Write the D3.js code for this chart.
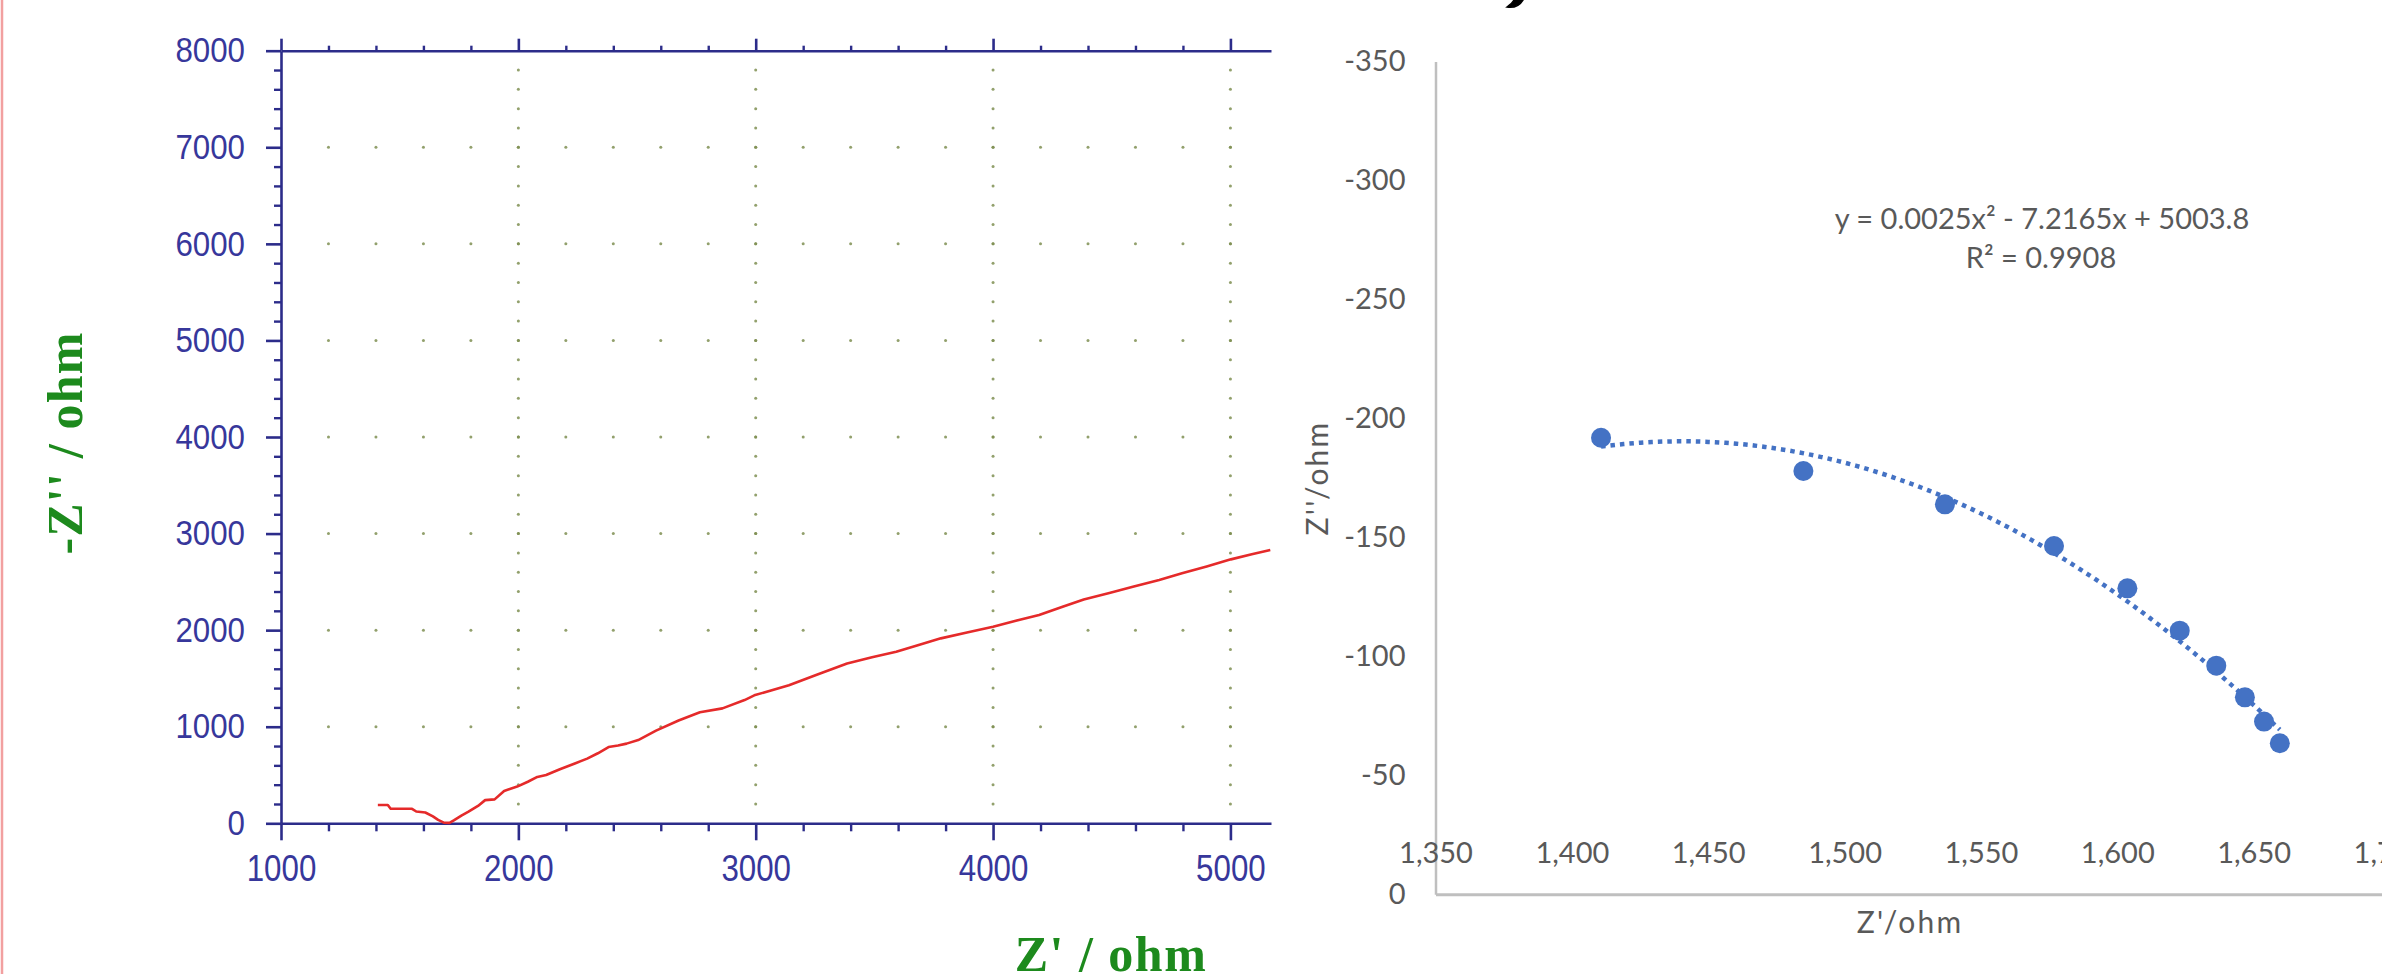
<!DOCTYPE html>
<html>
<head>
<meta charset="utf-8">
<script src="https://cdn.jsdelivr.net/npm/d3@7"></script>
<style>
  html, body { margin: 0; padding: 0; background: #ffffff; }
  svg { display: block; }
</style>
</head>
<body>
<script>
// ---------------- DATA ----------------
// Left chart: Nyquist trace (Z' in ohm, -Z'' in ohm)
const nyquistZre = [1408, 1450, 1462, 1552, 1570, 1608, 1640, 1662, 1688, 1710, 1728, 1760, 1790, 1830, 1860, 1900, 1940, 1995, 2040, 2080, 2117, 2175, 2238, 2290, 2335, 2380, 2420, 2456, 2505, 2580, 2675, 2765, 2860, 2953, 2994, 3140, 3260, 3385, 3490, 3592, 3690, 3780, 3890, 4000, 4100, 4194, 4290, 4382, 4490, 4589, 4700, 4796, 4900, 5002, 5090, 5168];
const nyquistZim = [190, 190, 150, 150, 122, 112, 72, 35, 5, 4, 30, 80, 120, 180, 240, 248, 335, 380, 430, 480, 500, 560, 620, 670, 725, 790, 805, 825, 862, 960, 1065, 1150, 1190, 1276, 1325, 1430, 1540, 1655, 1720, 1776, 1850, 1915, 1975, 2035, 2100, 2156, 2240, 2318, 2385, 2449, 2520, 2588, 2660, 2733, 2785, 2829];
const leftXTicks = [1000, 2000, 3000, 4000, 5000];
const leftYTicks = [0, 1000, 2000, 3000, 4000, 5000, 6000, 7000, 8000];
const leftMinorStep = 200;
const leftXTitle = "Z' / ohm";
const leftYTitle = "-Z'' / ohm";

// Right chart: scatter (Z' / ohm, Z'' / ohm)
const scatterZre = [1410.7, 1484.9, 1536.8, 1576.8, 1603.7, 1622.9, 1636.3, 1646.8, 1653.8, 1659.6];
const scatterZim = [-191.9, -177.9, -163.9, -146.4, -128.6, -110.8, -96.1, -82.8, -72.6, -63.5];
const rightXTicks = [1350, 1400, 1450, 1500, 1550, 1600, 1650, 1700];
const rightYTicks = [0, -50, -100, -150, -200, -250, -300, -350];
const rightXTitle = "Z'/ohm";
const rightYTitle = "Z''/ohm";
const equationText = "y = 0.0025x\u00B2 - 7.2165x + 5003.8";
const r2Text = "R\u00B2 = 0.9908";

// ---------------- LAYOUT ----------------
const W = 2382, H = 974;
const navy = "#2c2c8a", navyText = "#37379b", green = "#1d8a1d", gridCol = "#7f8f52";
const excelGray = "#595959", excelAxis = "#bfbfbf", excelBlue = "#4472C4";

const svg = d3.select("body").append("svg").attr("width", W).attr("height", H);
svg.append("rect").attr("width", W).attr("height", H).attr("fill", "#fff");

// pinkish frame line at the far left
svg.append("line").attr("x1", 2).attr("x2", 2).attr("y1", 0).attr("y2", H)
  .attr("stroke", "#f2a0a0").attr("stroke-width", 2.5);

// ---------------- LEFT CHART ----------------
const xL = d3.scaleLinear().domain([1000, 5171]).range([281, 1271]);
const yL = d3.scaleLinear().domain([0, 8000]).range([823.3, 50.7]);

const xMinor = d3.range(1000, 5171, leftMinorStep).filter(v => v % 1000 !== 0);
const yMinor = d3.range(0, 8001, leftMinorStep).filter(v => v % 1000 !== 0);

// grid dots
const gGrid = svg.append("g");
const dots = [];
leftYTicks.filter(v => v > 0 && v < 8000).forEach(yv => {
  d3.range(1200, 5171, leftMinorStep).forEach(xv => dots.push([xv, yv]));
});
leftXTicks.filter(v => v > 1000).forEach(xv => {
  d3.range(200, 8000, leftMinorStep).forEach(yv => dots.push([xv, yv]));
});
gGrid.selectAll("circle").data(dots).join("circle")
  .attr("cx", d => xL(d[0])).attr("cy", d => yL(d[1])).attr("r", 1.5)
  .attr("fill", gridCol).attr("opacity", 0.85);

function styleAxis(g, col, w) {
  g.selectAll(".domain").attr("stroke", col).attr("stroke-width", w);
  g.selectAll(".tick line").attr("stroke", col).attr("stroke-width", w);
}
const leftFont = "'Liberation Sans', Arial, sans-serif";
function narrowLabels(sel, size) {
  sel.selectAll("text")
    .attr("font-family", leftFont).attr("font-size", size).attr("fill", navyText)
    .attr("lengthAdjust", "spacingAndGlyphs")
    .attr("textLength", function() { return this.textContent.length * 17.4; });
}

// bottom axis
const gxB = svg.append("g").attr("transform", `translate(0,${yL(0)})`)
  .call(d3.axisBottom(xL).tickValues(leftXTicks).tickSize(17).tickSizeOuter(0).tickPadding(15).tickFormat(d3.format("d")));
styleAxis(gxB, navy, 2.6);
narrowLabels(gxB, 36);
const gxBm = svg.append("g").attr("transform", `translate(0,${yL(0)})`)
  .call(d3.axisBottom(xL).tickValues(xMinor).tickSize(8).tickFormat(""));
gxBm.select(".domain").remove(); styleAxis(gxBm, navy, 2.4);

// top axis
const gxT = svg.append("g").attr("transform", `translate(0,${yL(8000)})`)
  .call(d3.axisTop(xL).tickValues(leftXTicks).tickSize(12).tickSizeOuter(0).tickFormat(""));
styleAxis(gxT, navy, 2.6);
const gxTm = svg.append("g").attr("transform", `translate(0,${yL(8000)})`)
  .call(d3.axisTop(xL).tickValues(xMinor).tickSize(5).tickFormat(""));
gxTm.select(".domain").remove(); styleAxis(gxTm, navy, 2.4);

// left axis
const gyL = svg.append("g").attr("transform", `translate(${xL(1000)},0)`)
  .call(d3.axisLeft(yL).tickValues(leftYTicks).tickSize(15).tickSizeOuter(0).tickPadding(21).tickFormat(d3.format("d")));
styleAxis(gyL, navy, 2.6);
narrowLabels(gyL, 35);
const gyLm = svg.append("g").attr("transform", `translate(${xL(1000)},0)`)
  .call(d3.axisLeft(yL).tickValues(yMinor).tickSize(7).tickFormat(""));
gyLm.select(".domain").remove(); styleAxis(gyLm, navy, 2.4);

// red Nyquist line
const nyq = nyquistZre.map((x, i) => [x, nyquistZim[i]]);
svg.append("path").datum(nyq)
  .attr("d", d3.line().x(d => xL(d[0])).y(d => yL(d[1])))
  .attr("fill", "none").attr("stroke", "#e52a2a").attr("stroke-width", 2.6)
  .attr("stroke-linejoin", "round");

// titles
const serifBold = "'Liberation Serif', 'Times New Roman', serif";
svg.append("text").text(leftXTitle)
  .attr("x", 1111).attr("y", 971).attr("text-anchor", "middle")
  .attr("font-family", serifBold).attr("font-weight", "bold").attr("font-size", 50)
  .attr("letter-spacing", 1.5).attr("fill", green);
svg.append("text").text(leftYTitle)
  .attr("transform", "translate(82,443) rotate(-90)").attr("text-anchor", "middle")
  .attr("font-family", serifBold).attr("font-weight", "bold").attr("font-size", 50)
  .attr("letter-spacing", 1.2).attr("fill", green);

// ---------------- RIGHT CHART ----------------
const xR = d3.scaleLinear().domain([1350, 1700]).range([1435.5, 2390]);
const yR = d3.scaleLinear().domain([0, -350]).range([894.3, 61.6]);
const rightFont = "Lato, 'Open Sans', sans-serif";

const gyR = svg.append("g").attr("transform", `translate(${xR(1350)},0)`)
  .call(d3.axisLeft(yR).tickValues(rightYTicks).tickSize(0).tickSizeOuter(0).tickPadding(30).tickFormat(d => String(d)));
gyR.select(".domain").attr("stroke", excelAxis).attr("stroke-width", 2.5);
gyR.selectAll("text").attr("font-family", rightFont).attr("font-size", 29).attr("fill", excelGray);

const gxR = svg.append("g").attr("transform", `translate(0,${yR(0)})`)
  .call(d3.axisTop(xR).tickValues(rightXTicks).tickSize(0).tickSizeOuter(0).tickPadding(31.5).tickFormat(d3.format(",")));
gxR.select(".domain").attr("stroke", excelAxis).attr("stroke-width", 3);
gxR.selectAll("text").attr("font-family", rightFont).attr("font-size", 29).attr("fill", excelGray);

// quadratic least-squares trendline from the scatter data
const pts = scatterZre.map((x, i) => [x, scatterZim[i]]);
const xm = d3.mean(scatterZre);
function quadFit(p) {
  let S = [[0,0,0],[0,0,0],[0,0,0]], T = [0,0,0];
  p.forEach(([x, y]) => {
    const u = x - xm, v = [1, u, u*u];
    for (let i = 0; i < 3; i++) { T[i] += v[i]*y; for (let j = 0; j < 3; j++) S[i][j] += v[i]*v[j]; }
  });
  const A = S.map((r, i) => [...r, T[i]]);
  for (let i = 0; i < 3; i++) {
    for (let k = i+1; k < 3; k++) {
      const f = A[k][i] / A[i][i];
      for (let j = i; j < 4; j++) A[k][j] -= f * A[i][j];
    }
  }
  const c = [0,0,0];
  for (let i = 2; i >= 0; i--) {
    let s = A[i][3];
    for (let j = i+1; j < 3; j++) s -= A[i][j]*c[j];
    c[i] = s / A[i][i];
  }
  return x => { const u = x - xm; return c[0] + c[1]*u + c[2]*u*u; };
}
const fit = quadFit(pts);
const [xa, xb] = d3.extent(scatterZre);
const trend = d3.range(0, 121).map(i => { const x = xa + (xb - xa) * i / 120; return [x, fit(x)]; });
svg.append("path").datum(trend)
  .attr("d", d3.line().x(d => xR(d[0])).y(d => yR(d[1])))
  .attr("fill", "none").attr("stroke", excelBlue).attr("stroke-width", 4.5)
  .attr("stroke-dasharray", "4.5 5");

svg.append("g").selectAll("circle").data(pts).join("circle")
  .attr("cx", d => xR(d[0])).attr("cy", d => yR(d[1])).attr("r", 10)
  .attr("fill", excelBlue);

// equation
svg.append("text").text(equationText).attr("x", 2042).attr("y", 229).attr("text-anchor", "middle")
  .attr("font-family", rightFont).attr("font-size", 29).attr("fill", excelGray);
svg.append("text").text(r2Text).attr("x", 2041).attr("y", 268).attr("text-anchor", "middle")
  .attr("font-family", rightFont).attr("font-size", 29).attr("fill", excelGray);

// axis titles
svg.append("text").text(rightXTitle).attr("x", 1910).attr("y", 933).attr("text-anchor", "middle")
  .attr("font-family", rightFont).attr("font-size", 30).attr("letter-spacing", 2.2).attr("fill", excelGray);
svg.append("text").text(rightYTitle)
  .attr("transform", "translate(1328,478) rotate(-90)").attr("text-anchor", "middle")
  .attr("font-family", rightFont).attr("font-size", 30).attr("letter-spacing", 2.2).attr("fill", excelGray);

// small cropped black stroke at the top edge
svg.append("path").attr("d", "M1523,0 C1520,5 1514,8 1507,7 C1511,4 1513,2 1514,0 Z")
  .attr("fill", "#000").attr("stroke", "#000").attr("stroke-width", 1.5);
</script>
</body>
</html>
